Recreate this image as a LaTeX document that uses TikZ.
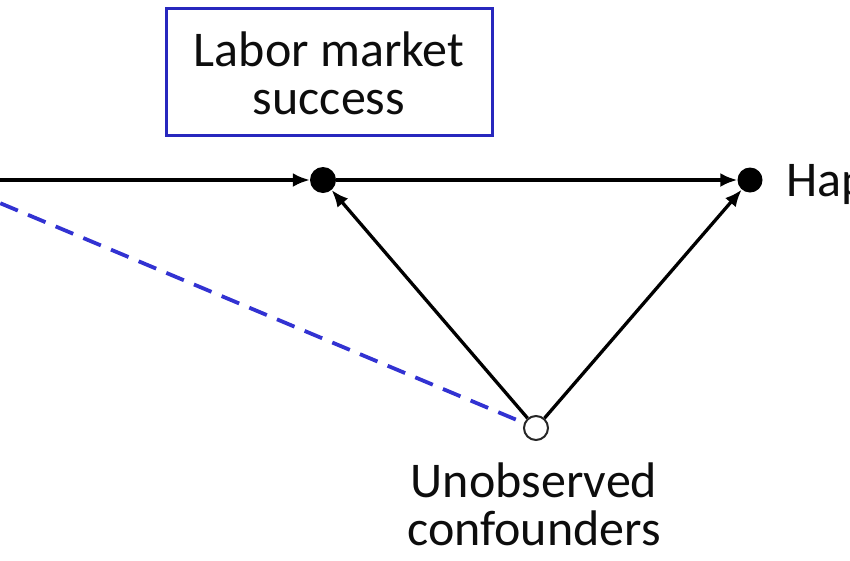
\documentclass[tikz,border=0pt]{standalone}
\usepackage{fontspec}
\setmainfont{Carlito}
\usetikzlibrary{arrows.meta}
\definecolor{boxblue}{RGB}{40,40,190}
\definecolor{dashblue}{RGB}{50,50,210}
\begin{document}
\begin{tikzpicture}[x=1pt,y=-1pt,
  lbl/.style={font=\fontsize{50}{48}\selectfont, align=center, text=black!95},
  fulldot/.style={circle, fill=black, inner sep=0pt, minimum size=26pt},
  opendot/.style={circle, draw=black!85, line width=2pt, fill=white, inner sep=0pt, minimum size=24pt},
  arr/.style={-{Latex[length=17pt,width=14pt]}, line width=3.3pt, black},
  dashline/.style={dash pattern=on 19pt off 11pt, line width=3.8pt, dashblue}
]
\useasboundingbox (0,0) rectangle (850,560);
\clip (0,0) rectangle (850,560);
\coordinate (edu) at (-55,180);
\node[draw=boxblue, line width=3pt, minimum width=326pt, minimum height=127pt, inner sep=0pt] (lms) at (329,71.5) {};
\node[lbl, inner sep=0pt] (lmstext) at (329,73) {Labor market\\success};
\node[fulldot] (m) at (323,180) {};
\node[fulldot, minimum size=25pt] (h) at (750,180) {};
\node[opendot] (u) at (536,428) {};
\node[lbl, anchor=west, inner sep=0pt] (htext) at (786,183) {Happiness};
\node[lbl, inner sep=0pt] (utext) at (534,504) {Unobserved\\confounders};
\draw[dashline] (edu) -- (u);
\draw[arr] (edu) -- (m);
\draw[arr] (m) -- (h);
\draw[arr] (u) -- (m);
\draw[arr] (u) -- (h);
\end{tikzpicture}
\end{document}
